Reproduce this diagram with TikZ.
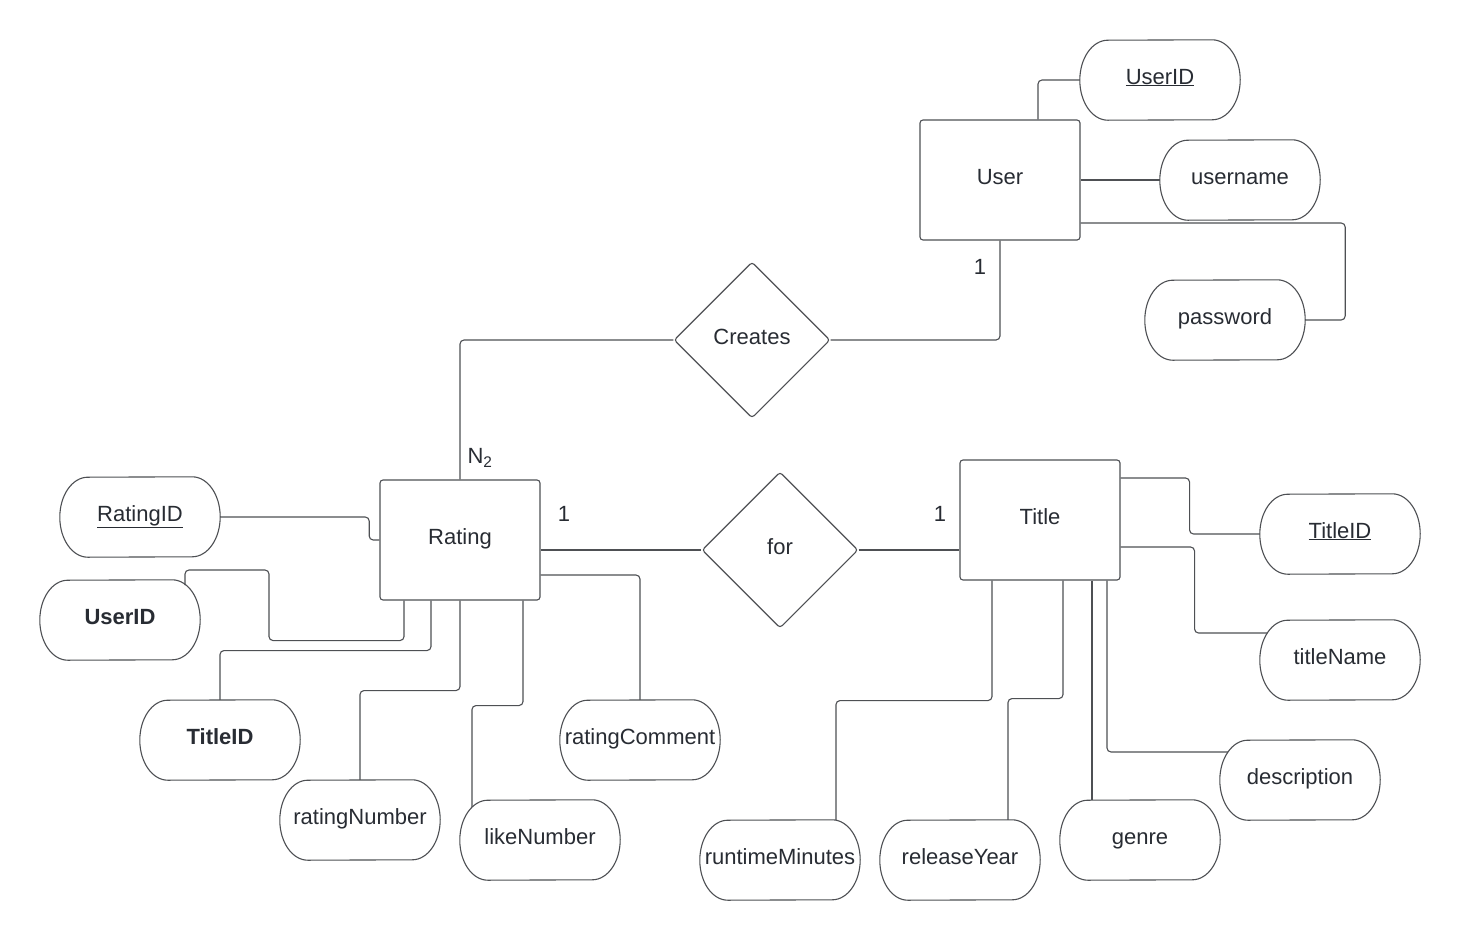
\documentclass[tikz,border=0pt]{standalone}
\usepackage{fontspec}
\setmainfont{Liberation Sans}
\usetikzlibrary{shapes.geometric,calc}
\definecolor{inkline}{RGB}{78,80,84}
\definecolor{inktext}{RGB}{40,44,51}
% outline of an attribute: flat top and bottom, elliptical ends
\newcommand\attrshape[1]{%
  \draw[outline] ($(#1.north east)+(-28,0)$)
    arc[start angle=90,end angle=-90,x radius=28pt,y radius=40pt]
    -- ($(#1.south west)+(28,0)$)
    arc[start angle=270,end angle=90,x radius=28pt,y radius=40pt]
    -- cycle;}
\begin{document}
\begin{tikzpicture}[x=1pt,y=-1pt,
  every node/.style={text=inktext,font=\fontsize{22}{26}\selectfont},
  outline/.style={draw=inkline,line width=1.1pt},
  label text/.style={text height=15pt,text depth=7pt},
  entity/.style={outline,label text,rectangle,rounded corners=3pt,minimum width=160,minimum height=120,inner sep=0},
  rel/.style={outline,label text,diamond,rounded corners=3pt,minimum width=156,minimum height=156,inner sep=0},
  attr/.style={label text,rectangle,minimum width=160,minimum height=80,inner sep=0},
  card/.style={inner sep=0},
  link/.style={draw=inkline,line width=1.1pt,rounded corners=4pt}]
\useasboundingbox (0,0) rectangle (1460,940);
\fill[white] (0,0) rectangle (1460,940);

% entities and relationships
\node[entity] (user) at (1000,180) {User};
\node[entity] (rating) at (460,540) {Rating};
\node[entity] (title) at (1040,520) {Title};
\node[rel] (creates) at (752,340) {Creates};
\node[rel] (for) at (780,550) {for};

% attributes
\node[attr] (uid) at (1160,80) {\underline{UserID}};
\node[attr] (uname) at (1240,180) {username};
\node[attr] (upass) at (1225,320) {password};
\node[attr] (rid) at (140,517) {\underline{RatingID}};
\node[attr] (ruid) at (120,620) {\textbf{UserID}};
\node[attr] (rtid) at (220,740) {\textbf{TitleID}};
\node[attr] (rnum) at (360,820) {ratingNumber};
\node[attr] (rlike) at (540,840) {likeNumber};
\node[attr] (rcom) at (640,740) {ratingComment};
\node[attr] (tid) at (1340,534) {\underline{TitleID}};
\node[attr] (tname) at (1340,660) {titleName};
\node[attr] (tdesc) at (1300,780) {description};
\node[attr] (tgenre) at (1140,840) {genre};
\node[attr] (tyear) at (960,860) {releaseYear};
\node[attr] (trun) at (780,860) {runtimeMinutes};
\foreach \a in {uid,uname,upass,rid,ruid,rtid,rnum,rlike,rcom,tid,tname,tdesc,tgenre,tyear,trun}
  {\attrshape{\a}}

% cardinalities
\node[card] (cu) at (980,267) {1};
\node[card] (cr) at (480,458) {N\textsubscript{2}};
\node[card] (cfr) at (564,514) {1};
\node[card] (cft) at (940,514) {1};

% relationship links
\draw[link] (creates.west) -| (rating.north);
\draw[link] (creates.east) -| (user.south);
\draw[link] (for.west -| rating.east) -- (for.west);
\draw[link] (for.east) -- (for.east -| title.west);

% user attributes
\draw[link] (uid.west) -| ($(user.north)+(38,0)$);
\draw[link] (user.east |- uname.west) -- (uname.west);
\draw[link] ($(user.east)+(0,43)$) -| ($(upass.east)+(40,0)$) -- (upass.east);

% rating attributes
\draw[link] (rid.east) -- ++(149,0) |- (rating.west);
\draw[link] ($(ruid.center)+(65,-35)$) |- ++(84,-15) |- ($(rating.south)+(-56,40)$) -- ($(rating.south)+(-56,0)$);
\draw[link] (rtid.north) |- ($(rating.south)+(-29,50)$) -- ($(rating.south)+(-29,0)$);
\draw[link] (rnum.north) |- ($(rating.south)+(0,90)$) -- (rating.south);
\draw[link] ($(rlike.center)+(-68,-33)$) |- ($(rating.south)+(63,105)$) -- ($(rating.south)+(63,0)$);
\draw[link] ($(rating.east)+(0,35)$) -| (rcom.north);

% title attributes
\draw[link] ($(title.east)+(0,-42)$) -- ++(69,0) |- (tid.west);
\draw[link] ($(title.east)+(0,27)$) -- ++(74,0) |- ($(tname.center)+(-73,-27)$);
\draw[link] ($(title.south)+(-48,0)$) -- ++(0,120) -| ($(trun.north)+(56,0)$);
\draw[link] ($(title.south)+(23,0)$) -- ++(0,118) -| ($(tyear.north)+(48,0)$);
\draw[link] ($(title.south)+(52,0)$) -- ($(tgenre.north)+(-48,0)$);
\draw[link] ($(title.south)+(67,0)$) |- ($(tdesc.center)+(-72,-28)$);
\end{tikzpicture}
\end{document}
